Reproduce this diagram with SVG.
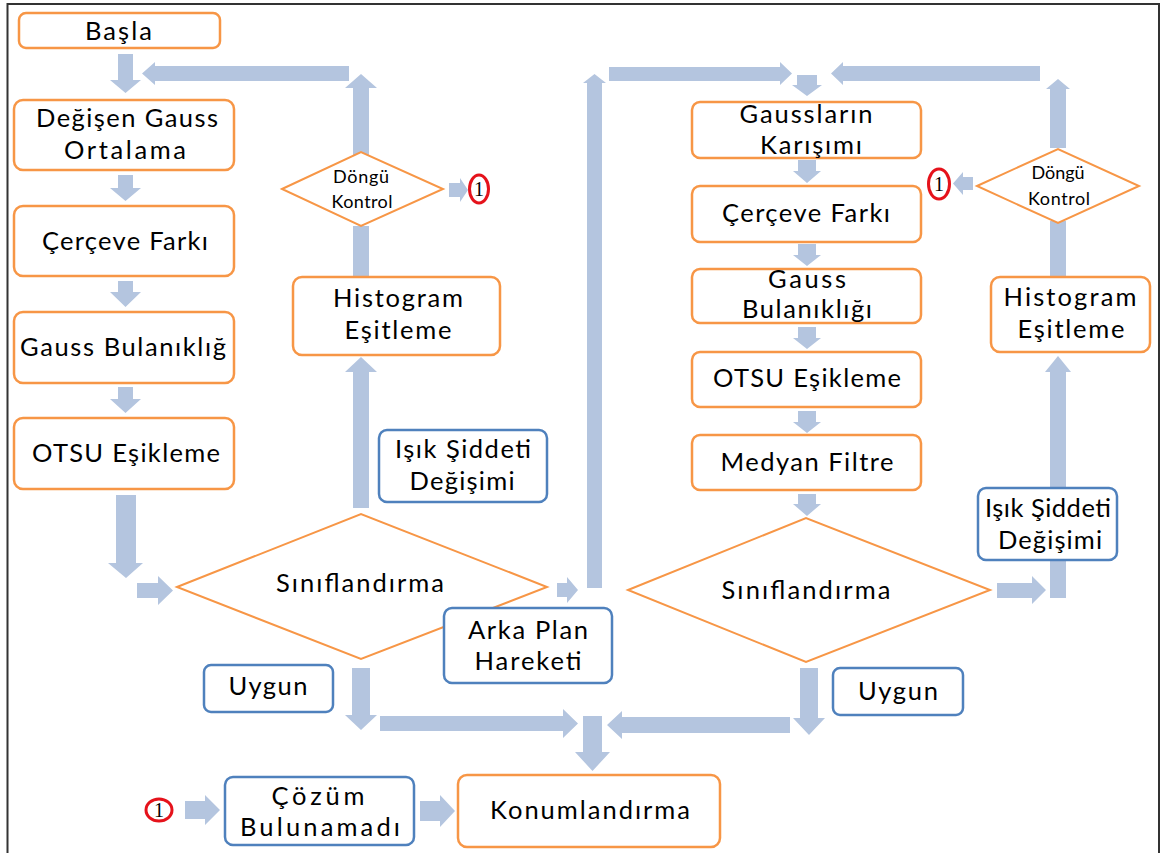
<svg xmlns="http://www.w3.org/2000/svg" width="1169" height="853" viewBox="0 0 1169 853">
  <style>
    .bo { fill: #ffffff; stroke: #F79646; stroke-width: 2.5; }
    .bb { fill: #ffffff; stroke: #4F81BD; stroke-width: 2.5; }
    .dm { fill: #ffffff; stroke: #F79646; stroke-width: 2; }
    .ar { fill: #B4C5DF; }
    .t { font-family: Lato, "Liberation Sans", sans-serif; font-size: 25.5px; fill: #000000; text-anchor: middle; }
    .ts { font-family: Lato, "Liberation Sans", sans-serif; font-size: 18px; fill: #000000; text-anchor: middle; }
    .ref { fill: #ffffff; stroke: #E5121B; stroke-width: 3; }
    .rn { font-family: "Liberation Serif", serif; font-size: 20px; fill: #000000; text-anchor: middle; }
  </style>

  <!-- page frame -->
  <path d="M7.5,860 V4 H1159 V860" fill="none" stroke="#333333" stroke-width="2"/>

  <!-- connectors: block arrows -->
  <g id="connectors" class="ar">
    <!-- left column -->
    <path d="M118,54 H133 V80 H141 L125.5,93 L110,80 H118 Z"/>
    <path d="M118,175 H133 V188 H141 L125.5,201 L110,188 H118 Z"/>
    <path d="M118,281 H133 V292 H141 L125.5,307 L110,292 H118 Z"/>
    <path d="M118,387 H133 V399 H141 L125.5,413 L110,399 H118 Z"/>
    <path d="M116,495 H136 V563 H143 L126,578 L108,563 H116 Z"/>
    <path d="M137,583 H158 V576 L173,590.5 L158,605 V598 H137 Z"/>
    <!-- loop back from left check -->
    <path d="M353,508 H369 V372 H377 L361,357 L345,372 H353 Z"/>
    <rect x="353" y="226" width="16" height="51"/>
    <path d="M353,157 H369 V88 H377 L361,74 L345,88 H353 Z"/>
    <path d="M349,66 V81 H155 V85 L142,73.5 L155,62 V66 Z"/>
    <path d="M449,183 H460 V178 L468,190 L460,202 V197 H449 Z"/>
    <!-- background motion branch -->
    <path d="M557,583 H567 V577 L578,590 L567,603 V597 H557 Z"/>
    <path d="M587,588 H602 V83 H606 L594.5,74 L583,83 H587 Z"/>
    <path d="M609,67 H780 V62 L792,73.5 L780,85 V81 H609 Z"/>
    <path d="M797,75 H817 V85 H822 L807,96 L792,85 H797 Z"/>
    <path d="M1040,66 V81 H843 V85 L831,73.5 L843,62 V66 Z"/>
    <path d="M1050,148 H1066 V89 H1070 L1058,79 L1046,89 H1050 Z"/>
    <!-- right column -->
    <path d="M798,160 H816 V171 H821 L807,183 L793,171 H798 Z"/>
    <path d="M798,244 H816 V255 H821 L807,266 L793,255 H798 Z"/>
    <path d="M798,327 H816 V338 H821 L807,349 L793,338 H798 Z"/>
    <path d="M798,411 H816 V422 H821 L807,433 L793,422 H798 Z"/>
    <path d="M798,494 H816 V504 H821 L807,516 L793,504 H798 Z"/>
    <path d="M973,177 V190 H963 V195 L953,183.5 L963,172 V177 Z"/>
    <rect x="1050" y="221" width="16" height="56"/>
    <path d="M1050,488 H1066 V372 H1071 L1058,356 L1045,372 H1050 Z"/>
    <path d="M997,583 H1032 V576 L1046,590 L1032,604 V598 H997 Z"/>
    <rect x="1050" y="560" width="16" height="38"/>
    <!-- towards localisation -->
    <path d="M800,668 H818 V718 H825 L809,735 L793,718 H800 Z"/>
    <path d="M790,717 V733 H622 V739 L607,725 L622,711 V717 Z"/>
    <path d="M352,668 H370 V715 H377 L361,730 L345,715 H352 Z"/>
    <path d="M380,716 H563 V709 L578,723.5 L563,738 V731 H380 Z"/>
    <path d="M583,716 H602 V752 H610 L592.5,771 L575,752 H583 Z"/>
    <path d="M185,801 H205 V795 L220,810 L205,825 V819 H185 Z"/>
    <path d="M420,801 H440 V795 L455,811 L440,827 V821 H420 Z"/>
  </g>

  <!-- left pipeline -->
  <g id="basla"><rect class="bo" x="19" y="13" width="201" height="35" rx="7"/>
    <text class="t" x="118.5" y="40" textLength="67">Başla</text></g>
  <g id="degisen-gauss"><rect class="bo" x="14" y="100" width="220" height="70" rx="9"/>
    <text class="t" x="127" y="127" textLength="182">Değişen Gauss</text>
    <text class="t" x="125" y="159" textLength="122">Ortalama</text></g>
  <g id="cerceve-farki-1"><rect class="bo" x="14" y="206" width="220" height="70" rx="9"/>
    <text class="t" x="125" y="250" textLength="166">Çerçeve Farkı</text></g>
  <g id="gauss-bulaniklik-1"><rect class="bo" x="14" y="312" width="220" height="71" rx="9"/>
    <text class="t" x="123" y="356" textLength="206">Gauss Bulanıklığ</text></g>
  <g id="otsu-1"><rect class="bo" x="14" y="418" width="220" height="71" rx="9"/>
    <text class="t" x="126" y="462" textLength="188">OTSU Eşikleme</text></g>
  <g id="histogram-1"><rect class="bo" x="293" y="277" width="207" height="78" rx="9"/>
    <text class="t" x="398" y="307" textLength="130">Histogram</text>
    <text class="t" x="398" y="339" textLength="107">Eşitleme</text></g>
  <g id="dongu-1"><polygon class="dm" points="282,189 361,152 443,189 361,226"/>
    <text class="ts" x="361" y="183" textLength="56">Döngü</text>
    <text class="ts" x="362" y="208" textLength="61">Kontrol</text></g>
  <g id="ref-1a"><ellipse class="ref" cx="479" cy="189" rx="9.5" ry="14"/>
    <text class="rn" x="479" y="196">1</text></g>
  <g id="isik-1"><rect class="bb" x="379" y="430" width="168" height="72" rx="8"/>
    <text class="t" x="463" y="458" textLength="136">Işık Şiddeti</text>
    <text class="t" x="462" y="490" textLength="105">Değişimi</text></g>
  <g id="siniflandirma-1"><polygon class="dm" points="177,587 361,514 547,587 361,659"/>
    <text class="t" x="360" y="592" textLength="168">Sınıflandırma</text></g>
  <g id="arka-plan"><rect class="bb" x="444" y="608" width="168" height="75" rx="8"/>
    <text class="t" x="528" y="639" textLength="120">Arka Plan</text>
    <text class="t" x="528" y="670" textLength="107">Hareketi</text></g>
  <g id="uygun-1"><rect class="bb" x="204" y="665" width="129" height="47" rx="7"/>
    <text class="t" x="268" y="695" textLength="79">Uygun</text></g>

  <!-- right pipeline -->
  <g id="gausslarin-karisimi"><rect class="bo" x="692" y="102" width="229" height="56" rx="8"/>
    <text class="t" x="806" y="123" textLength="133">Gaussların</text>
    <text class="t" x="811" y="154" textLength="102">Karışımı</text></g>
  <g id="cerceve-farki-2"><rect class="bo" x="692" y="186" width="229" height="56" rx="8"/>
    <text class="t" x="806" y="222" textLength="168">Çerçeve Farkı</text></g>
  <g id="gauss-bulaniklik-2"><rect class="bo" x="692" y="269" width="229" height="54" rx="8"/>
    <text class="t" x="807" y="288" textLength="78">Gauss</text>
    <text class="t" x="807" y="318" textLength="130">Bulanıklığı</text></g>
  <g id="otsu-2"><rect class="bo" x="692" y="352" width="229" height="55" rx="8"/>
    <text class="t" x="807" y="387" textLength="188">OTSU Eşikleme</text></g>
  <g id="medyan"><rect class="bo" x="692" y="435" width="229" height="55" rx="8"/>
    <text class="t" x="807" y="471" textLength="173">Medyan Filtre</text></g>
  <g id="histogram-2"><rect class="bo" x="991" y="277" width="159" height="75" rx="9"/>
    <text class="t" x="1070" y="306" textLength="133">Histogram</text>
    <text class="t" x="1071" y="338" textLength="107">Eşitleme</text></g>
  <g id="dongu-2"><polygon class="dm" points="977,186 1058,149 1139,186 1058,223"/>
    <text class="ts" x="1058" y="179" textLength="53">Döngü</text>
    <text class="ts" x="1059" y="205" textLength="62">Kontrol</text></g>
  <g id="ref-1b"><ellipse class="ref" cx="939" cy="184" rx="10.5" ry="15"/>
    <text class="rn" x="939" y="191">1</text></g>
  <g id="isik-2"><rect class="bb" x="978" y="488" width="139" height="72" rx="8"/>
    <text class="t" x="1048" y="517" textLength="126">Işık Şiddeti</text>
    <text class="t" x="1050" y="549" textLength="104">Değişimi</text></g>
  <g id="siniflandirma-2"><polygon class="dm" points="628,590 806,518 990,590 806,662"/>
    <text class="t" x="806" y="599" textLength="169">Sınıflandırma</text></g>
  <g id="uygun-2"><rect class="bb" x="833" y="668" width="130" height="47" rx="7"/>
    <text class="t" x="898" y="700" textLength="80">Uygun</text></g>

  <!-- bottom row -->
  <g id="ref-1c"><ellipse class="ref" cx="159" cy="810" rx="13" ry="11"/>
    <text class="rn" x="159" y="817">1</text></g>
  <g id="cozum-bulunamadi"><rect class="bb" x="225" y="777" width="189" height="68" rx="8"/>
    <text class="t" x="318" y="805" textLength="93">Çözüm</text>
    <text class="t" x="320" y="836" textLength="160">Bulunamadı</text></g>
  <g id="konumlandirma"><rect class="bo" x="458" y="775" width="262" height="72" rx="9"/>
    <text class="t" x="590" y="819" textLength="200">Konumlandırma</text></g>
</svg>
